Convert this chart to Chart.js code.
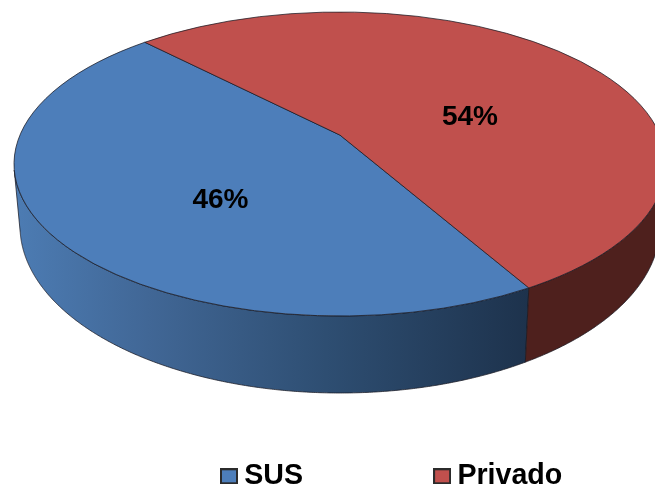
<!DOCTYPE html>
<html>
<head>
<meta charset="utf-8">
<title>SUS x Privado</title>
<script src="https://cdn.jsdelivr.net/npm/chart.js@4/dist/chart.umd.min.js"></script>
<style>
  html, body { margin: 0; padding: 0; background: #fff; overflow: hidden; }
  canvas { display: block; filter: blur(0.6px); }
</style>
</head>
<body>
<canvas id="chart" width="655" height="493"></canvas>
<script>
// chart data
const categories = ['SUS', 'Privado'];
const shares = [46, 54];

// colours
const topColors = ['#4d7eba', '#c0504d'];
const edgeColor = 'rgba(25, 25, 35, 0.75)';

// the pie is tilted: top rim, bottom rim and how far the centre moves up
const topRim = { cx: 340, cy: 164, rx: 326, ry: 152 };
const bottomRim = { cx: 340, cy: 226, rx: 320, ry: 167 };
const tilt = 0.19;
const tiltX = Math.sqrt(1 - tilt * tilt);
const labelSpots = [{ x: 220.5, y: 200.5 }, { x: 470, y: 117.5 }];

// canvas angle of the flat pie -> point on the tilted unit disc
function project(radius, angle) {
  const x = radius * Math.cos(angle);
  const y = radius * Math.sin(angle);
  const d = 1 - tilt * y;
  return { x: tiltX * x / d, y: (y - tilt) / d };
}

function rimAngle(angle) {
  const p = project(1, angle);
  return Math.atan2(p.y, p.x);
}

function rimPoint(rim, t) {
  return { x: rim.cx + rim.rx * Math.cos(t), y: rim.cy + rim.ry * Math.sin(t) };
}

function sideFill(ctx, index) {
  if (index === 1) return '#4e201d';
  const grad = ctx.createLinearGradient(20, 0, 530, 0);
  grad.addColorStop(0, '#4c7bb2');
  grad.addColorStop(0.25, '#416796');
  grad.addColorStop(0.6, '#2e4e72');
  grad.addColorStop(1, '#1d324c');
  return grad;
}

function drawSide(ctx, arc, index) {
  // only the front of the wall can be seen
  const lo = -5 * Math.PI / 180;
  const hi = 178 * Math.PI / 180;
  const steps = 500;
  let ts = [];
  for (let i = 0; i <= steps; i++) {
    let t = rimAngle(arc.startAngle + (arc.endAngle - arc.startAngle) * i / steps);
    if (t < -Math.PI / 2) t += Math.PI * 2;
    if (t >= lo && t <= hi) ts.push(t);
  }
  if (!ts.length) return;
  ctx.beginPath();
  ts.forEach((t, i) => {
    const p = rimPoint(topRim, t);
    if (i === 0) ctx.moveTo(p.x, p.y); else ctx.lineTo(p.x, p.y);
  });
  ts.slice().reverse().forEach((t) => {
    const p = rimPoint(bottomRim, t);
    ctx.lineTo(p.x, p.y);
  });
  ctx.closePath();
  ctx.fillStyle = sideFill(ctx, index);
  ctx.fill();
  ctx.strokeStyle = edgeColor;
  ctx.lineWidth = 1;
  ctx.stroke();
}

function drawTop(ctx, arc, index) {
  const mid = project(0, 0);
  const t1 = rimAngle(arc.startAngle);
  const t2 = rimAngle(arc.endAngle);
  ctx.beginPath();
  ctx.moveTo(topRim.cx + topRim.rx * mid.x, topRim.cy + topRim.ry * mid.y);
  ctx.ellipse(topRim.cx, topRim.cy, topRim.rx, topRim.ry, 0, t1, t2);
  ctx.closePath();
  ctx.fillStyle = topColors[index];
  ctx.fill();
  ctx.strokeStyle = edgeColor;
  ctx.lineWidth = 1;
  ctx.stroke();
}

const tiltedPie = {
  id: 'tiltedPie',
  afterLayout(chart) {
    // the legend sits by hand under the pie
    const legend = chart.legend;
    const pad = legend.options.labels.padding;
    legend.left = 228 - pad;
    legend.right = 900;
    legend.top = 462 - pad;
    legend.bottom = legend.top + legend.height;
  },
  beforeDatasetsDraw(chart) {
    const ctx = chart.ctx;
    const arcs = chart.getDatasetMeta(0).data;
    ctx.save();
    ctx.lineJoin = 'round';
    arcs.forEach((arc, i) => drawSide(ctx, arc, i));
    arcs.forEach((arc, i) => drawTop(ctx, arc, i));
    ctx.fillStyle = '#000';
    ctx.font = 'bold 28px "Liberation Sans", Arial, sans-serif';
    ctx.textAlign = 'center';
    ctx.textBaseline = 'middle';
    shares.forEach((v, i) => ctx.fillText(v + '%', labelSpots[i].x, labelSpots[i].y));
    ctx.restore();
    return false;
  }
};

// legend box: the text gap in chart.js is tied to the font size, so use an offset swatch
function swatch(color) {
  const c = document.createElement('canvas');
  c.width = 18;
  c.height = 16;
  const g = c.getContext('2d');
  g.fillStyle = color;
  g.fillRect(1, 1, 16, 14);
  g.strokeStyle = '#2b2b2b';
  g.lineWidth = 2;
  g.strokeRect(1, 1, 16, 14);
  return c;
}

new Chart(document.getElementById('chart'), {
  type: 'pie',
  data: {
    labels: categories,
    datasets: [{
      data: shares,
      backgroundColor: topColors,
      borderColor: edgeColor,
      borderWidth: 1
    }]
  },
  plugins: [tiltedPie],
  options: {
    responsive: false,
    animation: false,
    rotation: 150.5,
    plugins: {
      tooltip: { enabled: false },
      legend: {
        position: 'bottom',
        align: 'start',
        labels: {
          color: '#000',
          font: { family: '"Liberation Sans", Arial, sans-serif', size: 28.6, weight: 'bold' },
          padding: 138,
          usePointStyle: true,
          pointStyleWidth: 2,
          generateLabels: function () {
            return categories.map((name, i) => ({
              text: name,
              fontColor: '#000',
              pointStyle: swatch(topColors[i]),
              lineWidth: 0,
              index: i
            }));
          }
        }
      }
    }
  }
});
</script>
</body>
</html>
